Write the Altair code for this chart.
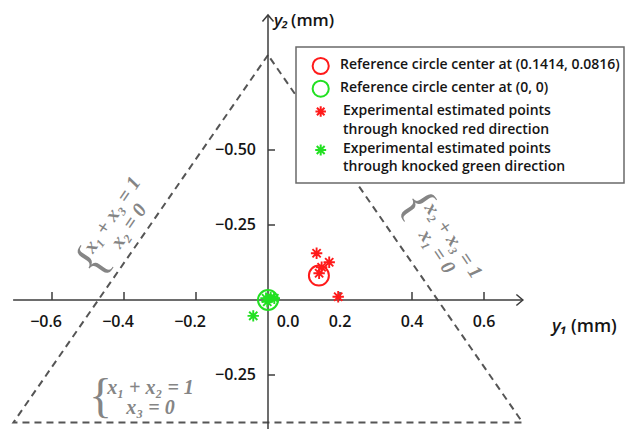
import math
import altair as alt
import pandas as pd

# ---------------- data ----------------
triangle_y1 = [0.0, -0.7071, 0.7071, 0.0]
triangle_y2 = [0.8165, -0.4082, -0.4082, 0.8165]

red_center_y1 = [0.1414]
red_center_y2 = [0.0816]
green_center_y1 = [0.0]
green_center_y2 = [0.0]

red_points_y1 = [0.135, 0.170, 0.149, 0.142, 0.195]
red_points_y2 = [0.156, 0.126, 0.109, 0.089, 0.011]
green_points_y1 = [-0.041, -0.002, 0.0175, 0.0075, -0.0055]
green_points_y2 = [-0.053, -0.006, 0.006, 0.008, 0.006]

x_tick_values = [-0.6, -0.4, -0.2, 0.2, 0.4, 0.6]
x_tick_labels = ["−0.6", "−0.4", "−0.2", "0.2", "0.4", "0.6"]
origin_label = ["0.0"]
y_tick_values = [0.5, 0.25, -0.25]
y_tick_labels = ["−0.50", "−0.25", "−0.25"]
x_axis_span = [-0.708, 0.708]
y_axis_span = [-0.47, 0.95]

legend_labels = [
    "Reference circle center at (0.1414, 0.0816)",
    "Reference circle center at (0, 0)",
    "Experimental estimated points\nthrough knocked red direction",
    "Experimental estimated points\nthrough knocked green direction",
]
annotation_lines = [
    ["x₁ + x₃ = 1", "x₂ = 0"],
    ["x₂ + x₃ = 1", "x₁ = 0"],
    ["x₁ + x₂ = 1", "x₃ = 0"],
]
x_title = ["y₁", "(mm)"]
y_title = ["y₂", "(mm)"]

# ---------------- layout / style ----------------
W, H = 620, 421
SX, SY = 360.0, 300.0
OX, OY = 260.0, 292.0
xs = alt.Scale(domain=[-OX / SX, (W - OX) / SX], nice=False, zero=False)
ys = alt.Scale(domain=[(OY - H) / SY, OY / SY], nice=False, zero=False)

RED = "#ff1a1a"
GREEN = "#22e022"
AX = "#3c3c3c"
DASH = "#555555"
ANN = "#858585"
TXT = "#151515"
SANS = "Open Sans"
SERIF = "Liberation Serif"
ASTER = "M-1,0L1,0M0,-1L0,1M-0.72,-0.72L0.72,0.72M-0.72,0.72L0.72,-0.72"


def X(f):
    return alt.X(f, type="quantitative", scale=xs, axis=None)


def Y(f):
    return alt.Y(f, type="quantitative", scale=ys, axis=None)


layers = []

# dashed triangle
tri_df = pd.DataFrame({"y1": triangle_y1, "y2": triangle_y2, "k": list(range(len(triangle_y1)))})
layers.append(
    alt.Chart(tri_df)
    .mark_line(color=DASH, strokeWidth=2, strokeDash=[7, 5])
    .encode(x=X("y1"), y=Y("y2"), order="k:O")
)

# axes lines
layers.append(
    alt.Chart(pd.DataFrame({"a": [x_axis_span[0]], "b": [x_axis_span[1]], "y": [0.0]}))
    .mark_rule(color=AX, strokeWidth=1.5)
    .encode(x=X("a"), x2=alt.X2("b"), y=Y("y"))
)
layers.append(
    alt.Chart(pd.DataFrame({"a": [y_axis_span[0]], "b": [y_axis_span[1]], "x": [0.0]}))
    .mark_rule(color=AX, strokeWidth=1.5)
    .encode(y=Y("a"), y2=alt.Y2("b"), x=X("x"))
)
# arrow heads
layers.append(
    alt.Chart(pd.DataFrame({"x": [x_axis_span[1]], "y": [0.0]}))
    .mark_point(shape="M-1,-0.85L0,0L-1,0.85", size=170, color=AX, strokeWidth=1.5, filled=False, opacity=1)
    .encode(x=X("x"), y=Y("y"))
)
layers.append(
    alt.Chart(pd.DataFrame({"x": [0.0], "y": [y_axis_span[1]]}))
    .mark_point(shape="M-0.85,1L0,0L0.85,1", size=170, color=AX, strokeWidth=1.5, filled=False, opacity=1)
    .encode(x=X("x"), y=Y("y"))
)

# ticks
xt_df = pd.DataFrame({"v": x_tick_values, "lab": x_tick_labels, "z": [0.0] * len(x_tick_values)})
layers.append(
    alt.Chart(xt_df)
    .mark_tick(orient="vertical", size=8, thickness=1.5, color=AX, yOffset=-4, opacity=1)
    .encode(x=X("v"), y=Y("z"))
)
yt_df = pd.DataFrame({"v": y_tick_values, "lab": y_tick_labels, "z": [0.0] * len(y_tick_values)})
layers.append(
    alt.Chart(yt_df)
    .mark_tick(orient="horizontal", size=7, thickness=1.5, color=AX, xOffset=3.5, opacity=1)
    .encode(y=Y("v"), x=X("z"))
)

# tick labels
TICKFONT = dict(font=SANS, fontSize=16, fontWeight=600, color=TXT, baseline="middle")
neg = xt_df[xt_df["v"] < 0]
pos = xt_df[xt_df["v"] > 0]
layers.append(
    alt.Chart(neg)
    .mark_text(align="right", dx=10, dy=22, **TICKFONT)
    .encode(x=X("v"), y=Y("z"), text="lab:N")
)
layers.append(
    alt.Chart(pos)
    .mark_text(align="center", dy=22, **TICKFONT)
    .encode(x=X("v"), y=Y("z"), text="lab:N")
)
layers.append(
    alt.Chart(pd.DataFrame({"v": [0.0], "z": [0.0], "lab": origin_label}))
    .mark_text(align="center", dx=20, dy=22, **TICKFONT)
    .encode(x=X("v"), y=Y("z"), text="lab:N")
)
layers.append(
    alt.Chart(yt_df)
    .mark_text(align="right", dx=-12, **TICKFONT)
    .encode(y=Y("v"), x=X("z"), text="lab:N")
)

# helper: text at page coords (plot coords = page - 8)
def txt(t, px, py, **kw):
    return (
        alt.Chart(pd.DataFrame({"t": [t]}))
        .mark_text(**kw)
        .encode(text="t:N", x=alt.value(px - 8), y=alt.value(py - 8))
    )


TITLEFONT = dict(font=SANS, fontSize=18, fontWeight=600, color=TXT, align="left", baseline="middle")
layers.append(txt(x_title[0], 552, 327, fontStyle="italic", **TITLEFONT))
layers.append(txt(x_title[1], 571, 327, **TITLEFONT))
TITLEFONT2 = dict(TITLEFONT, fontSize=17)
layers.append(txt(y_title[0], 274, 21, fontStyle="italic", **TITLEFONT2))
layers.append(txt(y_title[1], 291, 21, **TITLEFONT2))

# annotations
def ann_block(lines, cx, cy, ang, gap=20, brace_off=50):
    th = math.radians(ang)
    d = (math.cos(th), math.sin(th))
    n = (-math.sin(th), math.cos(th))
    out = []
    for i, t in enumerate(lines):
        k = (i - 0.5) * gap
        out.append(
            txt(t, cx + n[0] * k, cy + n[1] * k, font=SERIF, fontSize=20, fontStyle="italic",
                fontWeight="bold", color=ANN, align="center", baseline="middle", angle=ang % 360)
        )
    out.append(
        txt("{", cx - d[0] * brace_off, cy - d[1] * brace_off, font=SERIF, fontSize=48,
            color=ANN, align="center", baseline="middle", angle=ang % 360)
    )
    return out


layers += ann_block(annotation_lines[0], 120.5, 220.5, -56)
layers += ann_block(annotation_lines[1], 445, 246, 56)
layers += ann_block(annotation_lines[2], 150.5, 398, 0)

# data marks
layers.append(
    alt.Chart(pd.DataFrame({"x": red_center_y1, "y": red_center_y2}))
    .mark_point(shape="circle", size=400, color=RED, strokeWidth=2, filled=False, opacity=1)
    .encode(x=X("x"), y=Y("y"))
)
layers.append(
    alt.Chart(pd.DataFrame({"x": green_center_y1, "y": green_center_y2}))
    .mark_point(shape="circle", size=400, color=GREEN, strokeWidth=2, filled=False, opacity=1)
    .encode(x=X("x"), y=Y("y"))
)
layers.append(
    alt.Chart(pd.DataFrame({"x": red_points_y1, "y": red_points_y2}))
    .mark_point(shape=ASTER, size=130, color=RED, strokeWidth=1.9, filled=False, opacity=1)
    .encode(x=X("x"), y=Y("y"))
)
layers.append(
    alt.Chart(pd.DataFrame({"x": green_points_y1, "y": green_points_y2}))
    .mark_point(shape=ASTER, size=130, color=GREEN, strokeWidth=1.9, filled=False, opacity=1)
    .encode(x=X("x"), y=Y("y"))
)

# legend box
layers.append(
    alt.Chart(pd.DataFrame({"a": [0]}))
    .mark_rect(fill="white", stroke="#6a6a6a", strokeWidth=1.5)
    .encode(x=alt.value(296 - 8), x2=alt.value(624 - 8), y=alt.value(47 - 8), y2=alt.value(183 - 8))
)
leg_sym = [("circle", RED, 260, 66.0), ("circle", GREEN, 260, 88.7), (ASTER, RED, 110, 111.5), (ASTER, GREEN, 120, 150.0)]
leg_text_x = [340, 340, 343, 343]
leg_text_top = [58.0, 80.7, 104.0, 141.5]
for i, lab in enumerate(legend_labels):
    shp, col, sz, sy = leg_sym[i]
    layers.append(
        alt.Chart(pd.DataFrame({"a": [0]}))
        .mark_point(shape=shp, size=sz, color=col, strokeWidth=2, filled=False, opacity=1)
        .encode(x=alt.value(320.7 - 8), y=alt.value(sy - 8))
    )
    layers.append(
        txt(lab, leg_text_x[i], leg_text_top[i], font=SANS, fontSize=14, fontWeight=600,
            color=TXT, align="left", baseline="top", lineBreak="\n", lineHeight=18.5)
    )

chart = (
    alt.layer(*layers)
    .properties(width=W, height=H, padding=0, autosize=alt.AutoSizeParams(type="none"), background="white")
    .configure_view(stroke=None)
)

chart.save("out.html", embed_options={"renderer": "svg", "actions": False})
